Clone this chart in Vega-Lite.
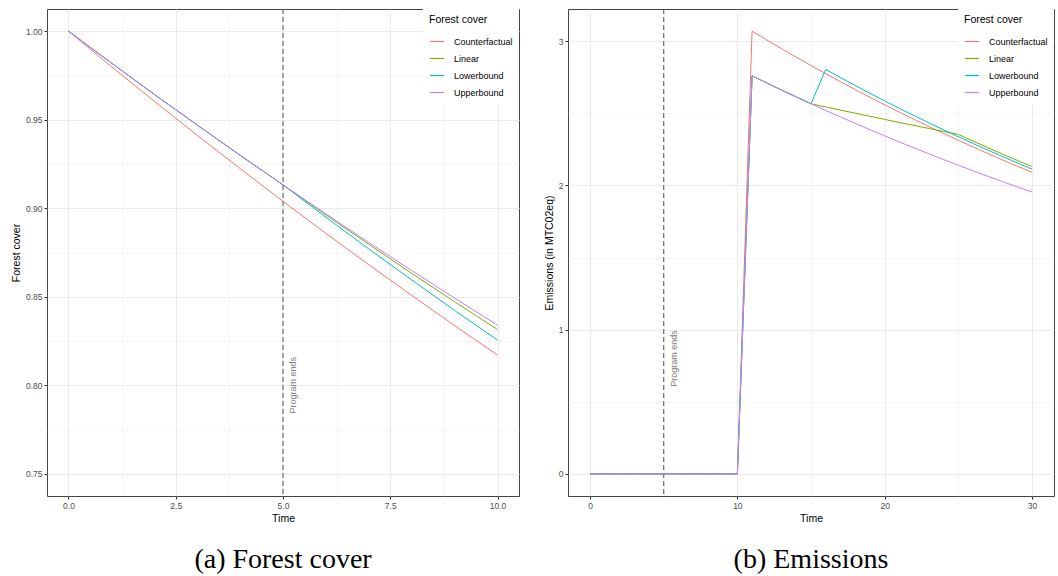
{
  "$schema": "https://vega.github.io/schema/vega-lite/v6.json",
  "padding": {"left": 10, "top": 8, "right": 0, "bottom": 0},
  "background": "white",
  "config": {
    "font": "Liberation Sans",
    "view": {"stroke": "#444444", "strokeWidth": 1},
    "axis": {"labelColor": "#4d4d4d", "labelFontSize": 8.5, "titleFontSize": 10.5, "titleFontWeight": "normal", "titleColor": "black", "tickColor": "#333333", "tickSize": 3, "domain": false, "gridColor": "#ebebeb", "labelPadding": 2, "titlePadding": 4},
    "legend": {"titleFontSize": 10.5, "titleFontWeight": "normal", "titleColor": "black", "labelFontSize": 9, "labelColor": "black", "symbolType": "stroke", "symbolStrokeWidth": 1.2, "symbolSize": 200, "fillColor": "white", "padding": 6, "rowPadding": 4, "titlePadding": 8, "labelOffset": 9, "offset": 0},
    "title": {"font": "Liberation Serif", "fontSize": 28, "fontWeight": "normal", "orient": "bottom", "anchor": "middle", "color": "black"},
    "concat": {"spacing": 23}
  },
  "resolve": {"scale": {"color": "independent"}, "legend": {"color": "independent"}},
  "datasets": {
    "forest": [
      {"time": 0, "scenario": "Counterfactual", "cover": 1.0},
      {"time": 1, "scenario": "Counterfactual", "cover": 0.98},
      {"time": 2, "scenario": "Counterfactual", "cover": 0.9604},
      {"time": 3, "scenario": "Counterfactual", "cover": 0.9412},
      {"time": 4, "scenario": "Counterfactual", "cover": 0.9224},
      {"time": 5, "scenario": "Counterfactual", "cover": 0.9039},
      {"time": 6, "scenario": "Counterfactual", "cover": 0.8858},
      {"time": 7, "scenario": "Counterfactual", "cover": 0.8681},
      {"time": 8, "scenario": "Counterfactual", "cover": 0.8508},
      {"time": 9, "scenario": "Counterfactual", "cover": 0.8337},
      {"time": 10, "scenario": "Counterfactual", "cover": 0.8171},
      {"time": 0, "scenario": "Linear", "cover": 1.0},
      {"time": 1, "scenario": "Linear", "cover": 0.982},
      {"time": 2, "scenario": "Linear", "cover": 0.9643},
      {"time": 3, "scenario": "Linear", "cover": 0.947},
      {"time": 4, "scenario": "Linear", "cover": 0.9299},
      {"time": 5, "scenario": "Linear", "cover": 0.9132},
      {"time": 6, "scenario": "Linear", "cover": 0.8962},
      {"time": 7, "scenario": "Linear", "cover": 0.8796},
      {"time": 8, "scenario": "Linear", "cover": 0.8632},
      {"time": 9, "scenario": "Linear", "cover": 0.8472},
      {"time": 10, "scenario": "Linear", "cover": 0.8315},
      {"time": 0, "scenario": "Lowerbound", "cover": 1.0},
      {"time": 1, "scenario": "Lowerbound", "cover": 0.982},
      {"time": 2, "scenario": "Lowerbound", "cover": 0.9643},
      {"time": 3, "scenario": "Lowerbound", "cover": 0.947},
      {"time": 4, "scenario": "Lowerbound", "cover": 0.9299},
      {"time": 5, "scenario": "Lowerbound", "cover": 0.9132},
      {"time": 6, "scenario": "Lowerbound", "cover": 0.8949},
      {"time": 7, "scenario": "Lowerbound", "cover": 0.877},
      {"time": 8, "scenario": "Lowerbound", "cover": 0.8595},
      {"time": 9, "scenario": "Lowerbound", "cover": 0.8423},
      {"time": 10, "scenario": "Lowerbound", "cover": 0.8255},
      {"time": 0, "scenario": "Upperbound", "cover": 1.0},
      {"time": 1, "scenario": "Upperbound", "cover": 0.982},
      {"time": 2, "scenario": "Upperbound", "cover": 0.9643},
      {"time": 3, "scenario": "Upperbound", "cover": 0.947},
      {"time": 4, "scenario": "Upperbound", "cover": 0.9299},
      {"time": 5, "scenario": "Upperbound", "cover": 0.9132},
      {"time": 6, "scenario": "Upperbound", "cover": 0.8968},
      {"time": 7, "scenario": "Upperbound", "cover": 0.8806},
      {"time": 8, "scenario": "Upperbound", "cover": 0.8648},
      {"time": 9, "scenario": "Upperbound", "cover": 0.8492},
      {"time": 10, "scenario": "Upperbound", "cover": 0.834}
    ],
    "emissions": [
      {"time": 0, "scenario": "Counterfactual", "emissions": 0},
      {"time": 1, "scenario": "Counterfactual", "emissions": 0},
      {"time": 2, "scenario": "Counterfactual", "emissions": 0},
      {"time": 3, "scenario": "Counterfactual", "emissions": 0},
      {"time": 4, "scenario": "Counterfactual", "emissions": 0},
      {"time": 5, "scenario": "Counterfactual", "emissions": 0},
      {"time": 6, "scenario": "Counterfactual", "emissions": 0},
      {"time": 7, "scenario": "Counterfactual", "emissions": 0},
      {"time": 8, "scenario": "Counterfactual", "emissions": 0},
      {"time": 9, "scenario": "Counterfactual", "emissions": 0},
      {"time": 10, "scenario": "Counterfactual", "emissions": 0},
      {"time": 11, "scenario": "Counterfactual", "emissions": 3.07},
      {"time": 12, "scenario": "Counterfactual", "emissions": 3.0086},
      {"time": 13, "scenario": "Counterfactual", "emissions": 2.9484},
      {"time": 14, "scenario": "Counterfactual", "emissions": 2.8895},
      {"time": 15, "scenario": "Counterfactual", "emissions": 2.8317},
      {"time": 16, "scenario": "Counterfactual", "emissions": 2.775},
      {"time": 17, "scenario": "Counterfactual", "emissions": 2.7195},
      {"time": 18, "scenario": "Counterfactual", "emissions": 2.6651},
      {"time": 19, "scenario": "Counterfactual", "emissions": 2.6118},
      {"time": 20, "scenario": "Counterfactual", "emissions": 2.5596},
      {"time": 21, "scenario": "Counterfactual", "emissions": 2.5084},
      {"time": 22, "scenario": "Counterfactual", "emissions": 2.4582},
      {"time": 23, "scenario": "Counterfactual", "emissions": 2.4091},
      {"time": 24, "scenario": "Counterfactual", "emissions": 2.3609},
      {"time": 25, "scenario": "Counterfactual", "emissions": 2.3137},
      {"time": 26, "scenario": "Counterfactual", "emissions": 2.2674},
      {"time": 27, "scenario": "Counterfactual", "emissions": 2.222},
      {"time": 28, "scenario": "Counterfactual", "emissions": 2.1776},
      {"time": 29, "scenario": "Counterfactual", "emissions": 2.134},
      {"time": 30, "scenario": "Counterfactual", "emissions": 2.0914},
      {"time": 0, "scenario": "Linear", "emissions": 0},
      {"time": 1, "scenario": "Linear", "emissions": 0},
      {"time": 2, "scenario": "Linear", "emissions": 0},
      {"time": 3, "scenario": "Linear", "emissions": 0},
      {"time": 4, "scenario": "Linear", "emissions": 0},
      {"time": 5, "scenario": "Linear", "emissions": 0},
      {"time": 6, "scenario": "Linear", "emissions": 0},
      {"time": 7, "scenario": "Linear", "emissions": 0},
      {"time": 8, "scenario": "Linear", "emissions": 0},
      {"time": 9, "scenario": "Linear", "emissions": 0},
      {"time": 10, "scenario": "Linear", "emissions": 0},
      {"time": 11, "scenario": "Linear", "emissions": 2.76},
      {"time": 12, "scenario": "Linear", "emissions": 2.7103},
      {"time": 13, "scenario": "Linear", "emissions": 2.6615},
      {"time": 14, "scenario": "Linear", "emissions": 2.6136},
      {"time": 15, "scenario": "Linear", "emissions": 2.5666},
      {"time": 16, "scenario": "Linear", "emissions": 2.5445},
      {"time": 17, "scenario": "Linear", "emissions": 2.5226},
      {"time": 18, "scenario": "Linear", "emissions": 2.5009},
      {"time": 19, "scenario": "Linear", "emissions": 2.4794},
      {"time": 20, "scenario": "Linear", "emissions": 2.4581},
      {"time": 21, "scenario": "Linear", "emissions": 2.437},
      {"time": 22, "scenario": "Linear", "emissions": 2.416},
      {"time": 23, "scenario": "Linear", "emissions": 2.3952},
      {"time": 24, "scenario": "Linear", "emissions": 2.3746},
      {"time": 25, "scenario": "Linear", "emissions": 2.3542},
      {"time": 26, "scenario": "Linear", "emissions": 2.3078},
      {"time": 27, "scenario": "Linear", "emissions": 2.2624},
      {"time": 28, "scenario": "Linear", "emissions": 2.2178},
      {"time": 29, "scenario": "Linear", "emissions": 2.1741},
      {"time": 30, "scenario": "Linear", "emissions": 2.1313},
      {"time": 0, "scenario": "Lowerbound", "emissions": 0},
      {"time": 1, "scenario": "Lowerbound", "emissions": 0},
      {"time": 2, "scenario": "Lowerbound", "emissions": 0},
      {"time": 3, "scenario": "Lowerbound", "emissions": 0},
      {"time": 4, "scenario": "Lowerbound", "emissions": 0},
      {"time": 5, "scenario": "Lowerbound", "emissions": 0},
      {"time": 6, "scenario": "Lowerbound", "emissions": 0},
      {"time": 7, "scenario": "Lowerbound", "emissions": 0},
      {"time": 8, "scenario": "Lowerbound", "emissions": 0},
      {"time": 9, "scenario": "Lowerbound", "emissions": 0},
      {"time": 10, "scenario": "Lowerbound", "emissions": 0},
      {"time": 11, "scenario": "Lowerbound", "emissions": 2.76},
      {"time": 12, "scenario": "Lowerbound", "emissions": 2.7103},
      {"time": 13, "scenario": "Lowerbound", "emissions": 2.6615},
      {"time": 14, "scenario": "Lowerbound", "emissions": 2.6136},
      {"time": 15, "scenario": "Lowerbound", "emissions": 2.5666},
      {"time": 16, "scenario": "Lowerbound", "emissions": 2.804},
      {"time": 17, "scenario": "Lowerbound", "emissions": 2.7479},
      {"time": 18, "scenario": "Lowerbound", "emissions": 2.693},
      {"time": 19, "scenario": "Lowerbound", "emissions": 2.6391},
      {"time": 20, "scenario": "Lowerbound", "emissions": 2.5863},
      {"time": 21, "scenario": "Lowerbound", "emissions": 2.5346},
      {"time": 22, "scenario": "Lowerbound", "emissions": 2.4839},
      {"time": 23, "scenario": "Lowerbound", "emissions": 2.4342},
      {"time": 24, "scenario": "Lowerbound", "emissions": 2.3855},
      {"time": 25, "scenario": "Lowerbound", "emissions": 2.3378},
      {"time": 26, "scenario": "Lowerbound", "emissions": 2.2911},
      {"time": 27, "scenario": "Lowerbound", "emissions": 2.2453},
      {"time": 28, "scenario": "Lowerbound", "emissions": 2.2004},
      {"time": 29, "scenario": "Lowerbound", "emissions": 2.1563},
      {"time": 30, "scenario": "Lowerbound", "emissions": 2.1132},
      {"time": 0, "scenario": "Upperbound", "emissions": 0},
      {"time": 1, "scenario": "Upperbound", "emissions": 0},
      {"time": 2, "scenario": "Upperbound", "emissions": 0},
      {"time": 3, "scenario": "Upperbound", "emissions": 0},
      {"time": 4, "scenario": "Upperbound", "emissions": 0},
      {"time": 5, "scenario": "Upperbound", "emissions": 0},
      {"time": 6, "scenario": "Upperbound", "emissions": 0},
      {"time": 7, "scenario": "Upperbound", "emissions": 0},
      {"time": 8, "scenario": "Upperbound", "emissions": 0},
      {"time": 9, "scenario": "Upperbound", "emissions": 0},
      {"time": 10, "scenario": "Upperbound", "emissions": 0},
      {"time": 11, "scenario": "Upperbound", "emissions": 2.76},
      {"time": 12, "scenario": "Upperbound", "emissions": 2.7103},
      {"time": 13, "scenario": "Upperbound", "emissions": 2.6615},
      {"time": 14, "scenario": "Upperbound", "emissions": 2.6136},
      {"time": 15, "scenario": "Upperbound", "emissions": 2.5666},
      {"time": 16, "scenario": "Upperbound", "emissions": 2.5204},
      {"time": 17, "scenario": "Upperbound", "emissions": 2.475},
      {"time": 18, "scenario": "Upperbound", "emissions": 2.4305},
      {"time": 19, "scenario": "Upperbound", "emissions": 2.3867},
      {"time": 20, "scenario": "Upperbound", "emissions": 2.3438},
      {"time": 21, "scenario": "Upperbound", "emissions": 2.3016},
      {"time": 22, "scenario": "Upperbound", "emissions": 2.2602},
      {"time": 23, "scenario": "Upperbound", "emissions": 2.2195},
      {"time": 24, "scenario": "Upperbound", "emissions": 2.1795},
      {"time": 25, "scenario": "Upperbound", "emissions": 2.1403},
      {"time": 26, "scenario": "Upperbound", "emissions": 2.1018},
      {"time": 27, "scenario": "Upperbound", "emissions": 2.0639},
      {"time": 28, "scenario": "Upperbound", "emissions": 2.0268},
      {"time": 29, "scenario": "Upperbound", "emissions": 1.9903},
      {"time": 30, "scenario": "Upperbound", "emissions": 1.9545}
    ],
    "endLeft": [{"time": 5, "cover": 0.8, "label": "Program ends", "labelTime": 5.24}],
    "endRight": [{"time": 5, "emissions": 0.8, "label": "Program ends", "labelTime": 5.7}]
  },
  "hconcat": [
    {
      "title": {"text": "(a) Forest cover", "offset": 22},
      "width": 472,
      "height": 487,
      "layer": [
        {
          "data": {"name": "endLeft"},
          "mark": {"type": "rule", "color": "#555555", "strokeDash": [5, 3], "strokeWidth": 1},
          "encoding": {"x": {"field": "time", "type": "quantitative"}}
        },
        {
          "data": {"name": "forest"},
          "mark": {"type": "line", "strokeWidth": 1, "clip": true},
          "encoding": {
            "x": {
              "field": "time", "type": "quantitative", "title": "Time",
              "scale": {"domain": [-0.5, 10.5], "nice": false, "zero": false},
              "axis": {
                "values": [0, 1.25, 2.5, 3.75, 5, 6.25, 7.5, 8.75, 10],
                "labelExpr": "round(datum.value*100) % 250 == 0 ? format(datum.value, '.1f') : ''",
                "gridWidth": {"condition": {"test": "round(datum.value*100) % 250 != 0", "value": 0.5}, "value": 1},
                "tickOpacity": {"condition": {"test": "round(datum.value*100) % 250 != 0", "value": 0}, "value": 1}
              }
            },
            "y": {
              "field": "cover", "type": "quantitative", "title": "Forest cover",
              "scale": {"domain": [0.7375, 1.0125], "nice": false, "zero": false},
              "axis": {
                "values": [0.75, 0.775, 0.8, 0.825, 0.85, 0.875, 0.9, 0.925, 0.95, 0.975, 1.0],
                "labelExpr": "round(datum.value*1000) % 50 == 0 ? format(datum.value, '.2f') : ''",
                "gridWidth": {"condition": {"test": "round(datum.value*1000) % 50 != 0", "value": 0.5}, "value": 1},
                "tickOpacity": {"condition": {"test": "round(datum.value*1000) % 50 != 0", "value": 0}, "value": 1}
              }
            },
            "color": {
              "field": "scenario", "type": "nominal",
              "scale": {"domain": ["Counterfactual", "Linear", "Lowerbound", "Upperbound"], "range": ["#F8766D", "#7CAE00", "#00BFC4", "#C77CFF"]},
              "legend": {"title": "Forest cover", "orient": "top-right", "offset": 0}
            }
          }
        },
        {
          "data": {"name": "endLeft"},
          "mark": {"type": "text", "angle": 270, "align": "center", "baseline": "middle", "fontSize": 9, "color": "#808080"},
          "encoding": {
            "x": {"field": "labelTime", "type": "quantitative"},
            "y": {"field": "cover", "type": "quantitative"},
            "text": {"field": "label"}
          }
        }
      ]
    },
    {
      "title": {"text": "(b) Emissions", "offset": 22},
      "width": 486,
      "height": 487,
      "layer": [
        {
          "data": {"name": "endRight"},
          "mark": {"type": "rule", "color": "#555555", "strokeDash": [5, 3], "strokeWidth": 1},
          "encoding": {"x": {"field": "time", "type": "quantitative"}}
        },
        {
          "data": {"name": "emissions"},
          "mark": {"type": "line", "strokeWidth": 1, "clip": true},
          "encoding": {
            "x": {
              "field": "time", "type": "quantitative", "title": "Time",
              "scale": {"domain": [-1.5, 31.5], "nice": false, "zero": false},
              "axis": {
                "values": [0, 5, 10, 15, 20, 25, 30],
                "labelExpr": "datum.value % 10 == 0 ? format(datum.value, 'd') : ''",
                "gridWidth": {"condition": {"test": "datum.value % 10 != 0", "value": 0.5}, "value": 1},
                "tickOpacity": {"condition": {"test": "datum.value % 10 != 0", "value": 0}, "value": 1}
              }
            },
            "y": {
              "field": "emissions", "type": "quantitative", "title": "Emissions (in MTC02eq)",
              "scale": {"domain": [-0.1535, 3.2235], "nice": false, "zero": false},
              "axis": {
                "values": [0, 0.5, 1, 1.5, 2, 2.5, 3],
                "labelExpr": "round(datum.value*10) % 10 == 0 ? format(datum.value, 'd') : ''",
                "gridWidth": {"condition": {"test": "round(datum.value*10) % 10 != 0", "value": 0.5}, "value": 1},
                "tickOpacity": {"condition": {"test": "round(datum.value*10) % 10 != 0", "value": 0}, "value": 1}
              }
            },
            "color": {
              "field": "scenario", "type": "nominal",
              "scale": {"domain": ["Counterfactual", "Linear", "Lowerbound", "Upperbound"], "range": ["#F8766D", "#7CAE00", "#00BFC4", "#C77CFF"]},
              "legend": {"title": "Forest cover", "orient": "top-right", "offset": 0}
            }
          }
        },
        {
          "data": {"name": "endRight"},
          "mark": {"type": "text", "angle": 270, "align": "center", "baseline": "middle", "fontSize": 9, "color": "#808080"},
          "encoding": {
            "x": {"field": "labelTime", "type": "quantitative"},
            "y": {"field": "emissions", "type": "quantitative"},
            "text": {"field": "label"}
          }
        }
      ]
    }
  ]
}
